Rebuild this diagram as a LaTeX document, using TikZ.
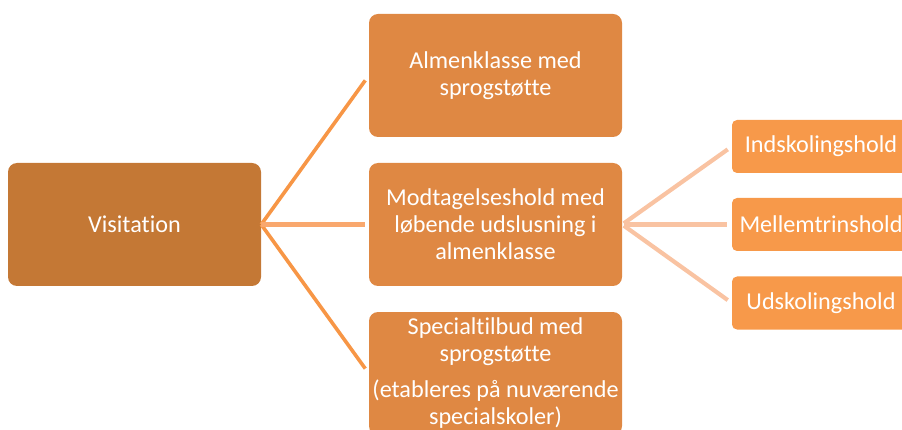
\documentclass[tikz,border=0pt]{standalone}
\usepackage{fontspec}
\setmainfont{Carlito}[RawFeature={-liga;-clig;-dlig}]
\definecolor{visfill}{HTML}{C47835}
\definecolor{midfill}{HTML}{DF8843}
\definecolor{rightfill}{HTML}{F7994A}
\definecolor{linea}{HTML}{F79646}
\definecolor{lineb}{HTML}{F9A86E}
\definecolor{linec}{HTML}{F9C3A2}
\tikzset{
  bigbox/.style={draw=none, rounded corners=9pt, minimum width=253pt, minimum height=123pt,
    text=white, align=center, inner sep=0pt, font=\fontsize{24.2}{27}\selectfont},
  smallbox/.style={draw=none, rounded corners=5pt, minimum width=178pt, minimum height=53pt,
    text=white, align=center, inner sep=0pt, fill=rightfill, font=\fontsize{24.2}{27}\selectfont},
  conna/.style={draw=linea, line width=3.6pt, shorten >=6pt},
  connb/.style={draw=lineb, line width=4.2pt, shorten >=4pt},
  connc/.style={draw=linec, line width=4.2pt, shorten >=5pt, shorten <=2pt},
}
\begin{document}
\begin{tikzpicture}[x=1pt,y=-1pt]
\useasboundingbox (0,0) rectangle (902,430);
\clip (0,0) rectangle (902,430);
\node[bigbox, fill=visfill] (vis) at (134.5,224.5) {Visitation};
\node[bigbox, fill=midfill] (alm) at (495.5,75.5) {Almenklasse med\\sprogstøtte};
\node[bigbox, fill=midfill] (mod) at (495.5,224.5) {Modtagelseshold med\\løbende udslusning i\\almenklasse};
\node[bigbox, fill=midfill] (spe) at (495.5,373.5) {Specialtilbud med\\sprogstøtte\\[9pt](etableres på nuværende\\specialskoler)};
\node[smallbox] (ind) at (821,146.5) {Indskolingshold};
\node[smallbox] (mel) at (821,224.5) {Mellemtrinshold};
\node[smallbox] (uds) at (821,303) {Udskolingshold};
\draw[conna] (vis.east) -- (alm.west);
\draw[conna] (vis.east) -- (spe.west);
\draw[connb] (vis.east) -- (mod.west);
\draw[connc] (mod.east) -- (ind.west);
\draw[connc] (mod.east) -- (mel.west);
\draw[connc] (mod.east) -- (uds.west);
\end{tikzpicture}
\end{document}
